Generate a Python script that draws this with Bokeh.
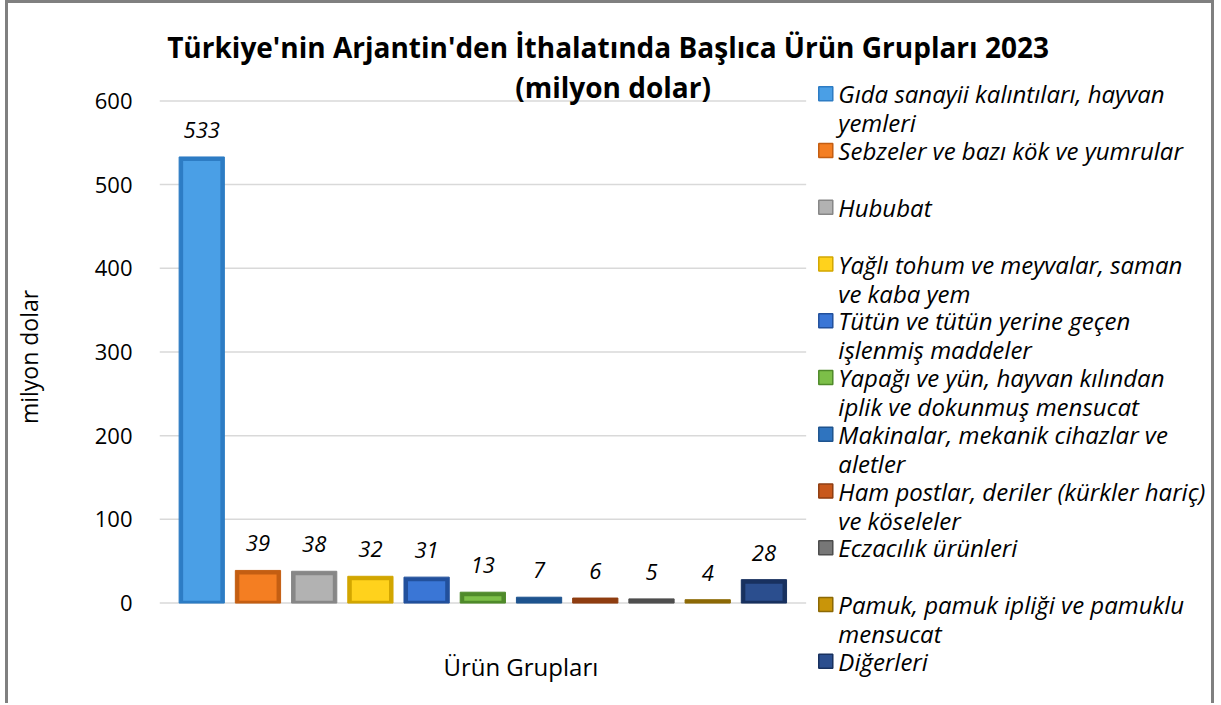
from bokeh.plotting import figure
from bokeh.models import Range1d, FixedTicker
from bokeh.core.properties import value
from bokeh.embed import file_html
from bokeh.resources import INLINE

# ---------------- data ----------------
title_line1 = "Türkiye'nin Arjantin'den İthalatında Başlıca Ürün Grupları 2023"
title_line2 = "(milyon dolar)"
y_axis_title = "milyon dolar"
x_axis_title = "Ürün Grupları"
categories = [
    "Gıda sanayii kalıntıları, hayvan\nyemleri",
    "Sebzeler ve bazı kök ve yumrular",
    "Hububat",
    "Yağlı tohum ve meyvalar, saman\nve kaba yem",
    "Tütün ve tütün yerine geçen\nişlenmiş maddeler",
    "Yapağı ve yün, hayvan kılından\niplik ve dokunmuş mensucat",
    "Makinalar, mekanik cihazlar ve\naletler",
    "Ham postlar, deriler (kürkler hariç)\nve köseleler",
    "Eczacılık ürünleri",
    "Pamuk, pamuk ipliği ve pamuklu\nmensucat",
    "Diğerleri",
]
values = [533, 39, 38, 32, 31, 13, 7, 6, 5, 4, 28]
y_ticks = [0, 100, 200, 300, 400, 500, 600]

main_colors = ["#4a9fe6", "#f47e22", "#b2b2b2", "#ffd21c", "#3a76d6", "#7cbf48",
               "#2f74bf", "#c8581c", "#777777", "#c99509", "#2b4e8e"]
edge_colors = ["#2d7cc4", "#c45e12", "#878787", "#d2a600", "#22509c", "#4f8a2a",
               "#1e538e", "#8f3d10", "#4e4e4e", "#8c6905", "#18315f"]

FONT = "Open Sans"
n = len(values)
idx = list(range(n))

# ---------------- layout constants (page pixels) ----------------
ORIGIN_X, ORIGIN_Y = 12, 5           # top-left of the figure content on the page
FIG_W, FIG_H = 1203, 700
FRAME_L, FRAME_R, FRAME_T, FRAME_B = 163, 1215, 14, 700
PLOT_R = 806                          # right end of the bar area / gridlines
BAR0_PX, BAR_STEP = 205.0, 55.9       # first bar centre, bar spacing
Y0_PX, Y600_PX = 602.0, 102.0

px_per_y = (Y0_PX - Y600_PX) / 600.0
x_start = -(BAR0_PX - FRAME_L) / BAR_STEP
x_end = x_start + (FRAME_R - FRAME_L) / BAR_STEP
x_plot_end = x_start + (PLOT_R - FRAME_L) / BAR_STEP
y_start = -(FRAME_B - Y0_PX) / px_per_y
y_end = 600 + (Y600_PX - FRAME_T) / px_per_y

p = figure(width=FIG_W, height=FIG_H,
           x_range=Range1d(x_start, x_end), y_range=Range1d(y_start, y_end),
           output_backend="svg", toolbar_location=None, x_axis_location=None,
           min_border_left=FRAME_L - ORIGIN_X, min_border_right=ORIGIN_X + FIG_W - FRAME_R,
           min_border_top=FRAME_T - ORIGIN_Y, min_border_bottom=ORIGIN_Y + FIG_H - FRAME_B,
           styles={"margin-left": "5px", "box-sizing": "content-box",
                   "border-left": "3px solid #808080", "border-right": "3px solid #808080",
                   "border-top": "3px solid #808080"})
p.title.visible = False
p.outline_line_color = None
p.grid.visible = False
p.extra_x_ranges = {"px": Range1d(FRAME_L, FRAME_R)}
p.extra_y_ranges = {"py": Range1d(FRAME_B, FRAME_T)}

# y axis
p.yaxis.ticker = FixedTicker(ticks=y_ticks)
p.yaxis.axis_line_color = None
p.yaxis.major_tick_line_color = None
p.yaxis.minor_tick_line_color = None
p.yaxis.major_tick_in = 0
p.yaxis.major_tick_out = 0
p.yaxis.major_label_standoff = 27
p.yaxis.major_label_text_font = FONT
p.yaxis.major_label_text_font_size = "22px"
p.yaxis.major_label_text_color = "#000000"
p.yaxis.axis_label = y_axis_title
p.yaxis.axis_label_text_font = FONT
p.yaxis.axis_label_text_font_size = "23px"
p.yaxis.axis_label_text_font_style = "normal"
p.yaxis.axis_label_text_color = "#000000"
p.yaxis.axis_label_standoff = 47

# horizontal gridlines across the bar area only
p.segment(x0=[x_start] * len(y_ticks), x1=[x_plot_end] * len(y_ticks), y0=y_ticks, y1=y_ticks,
          line_color="#d9d9d9", line_width=1.5)

# bevel-like bars: darker edge + inner face
inset_y = 4 / px_per_y
inner_x, inner_top, inner_bot, inner_col = [], [], [], []
for i, v in enumerate(values):
    if v - inset_y > inset_y * 0.6 + 2:
        inner_x.append(i)
        inner_top.append(v - inset_y)
        inner_bot.append(inset_y * 0.6)
        inner_col.append(main_colors[i])

BAR_W = 0.805
p.vbar(x=idx, top=values, bottom=0, width=BAR_W, fill_color=edge_colors, line_color=edge_colors,
       line_width=1)
p.vbar(x=inner_x, top=inner_top, bottom=inner_bot, width=BAR_W - 2 * (4 / BAR_STEP),
       fill_color=inner_col, line_color=None)

p.text(x=idx, y=values, text=[str(v) for v in values], text_align="center",
       text_baseline="middle", y_offset=-27, text_font=value(FONT),
       text_font_style="italic", text_font_size="22px", text_color="#000000")

# x axis title under the bars
p.text(x=[(n - 1) / 2], y=[0], text=[x_axis_title], text_align="center", text_baseline="middle",
       x_offset=38, y_offset=63, text_font=value(FONT), text_font_size="24px",
       text_color="#000000")

# chart title (two lines)
p.text(x=[609, 614], y=[48, 88], text=[title_line1, title_line2], text_align="center",
       text_baseline="middle", x_range_name="px", y_range_name="py", text_font=value(FONT),
       text_font_style="bold", text_font_size="28px", text_color="#000000")

# ---------------- legend ----------------
LEG_X_SQ, LEG_X_TXT, LEG_Y0, LEG_STEP, LEG_LINE = 825.5, 838, 95, 56.5, 29
ys = [LEG_Y0 + LEG_STEP * i for i in idx]
first_lines = [c.split("\n")[0] for c in categories]
second_lines = [c.split("\n")[1] if "\n" in c else "" for c in categories]

p.scatter(x=[LEG_X_SQ] * n, y=ys, marker="square", size=14, fill_color=main_colors,
          line_color=edge_colors, line_width=1.5, x_range_name="px", y_range_name="py")
p.text(x=[LEG_X_TXT] * n, y=ys, text=first_lines, text_baseline="middle",
       x_range_name="px", y_range_name="py", text_font=value(FONT),
       text_font_style="italic", text_font_size="24px", text_color="#000000")
p.text(x=[LEG_X_TXT] * n, y=[y + LEG_LINE for y in ys], text=second_lines,
       text_baseline="middle", x_range_name="px", y_range_name="py", text_font=value(FONT),
       text_font_style="italic", text_font_size="24px", text_color="#000000")

open("out.html", "w").write(file_html(p, INLINE))
